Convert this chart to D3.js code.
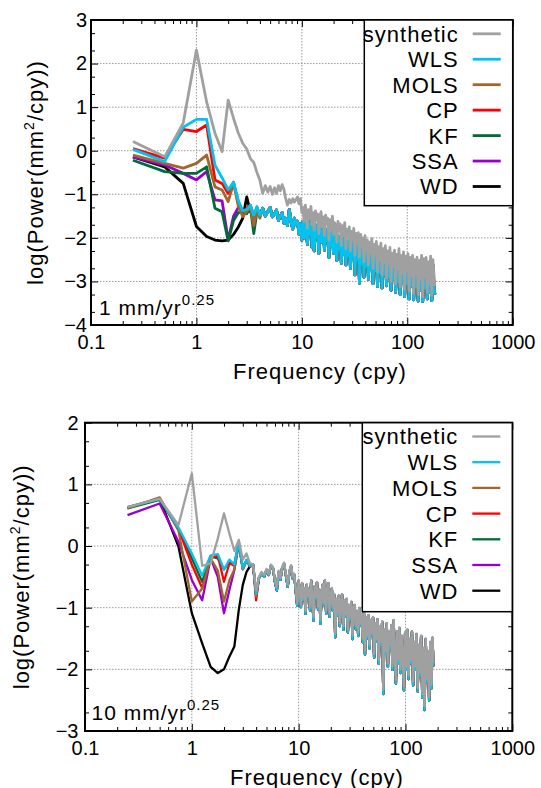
<!DOCTYPE html>
<html>
<head>
<meta charset="utf-8">
<script src="https://cdn.jsdelivr.net/npm/d3@7"></script>
<style>
  body { margin: 0; background: #fff; }
  svg { display: block; }
  svg text { font-family: "Liberation Sans", Arial, sans-serif; fill: #000; }
</style>
</head>
<body>
<svg id="chart" width="541" height="788"></svg>
<script>
// ---------- data ----------
var seriesNames = ["synthetic", "WLS", "MOLS", "CP", "KF", "SSA", "WD"];
var drawOrder = ["WD", "SSA", "KF", "CP", "MOLS", "WLS", "synthetic"];

var xTickValues = [0.1, 1, 10, 100, 1000];
var xTickLabels = ["0.1", "1", "10", "100", "1000"];
var topYTicks = [-4, -3, -2, -1, 0, 1, 2, 3];
var bottomYTicks = [-3, -2, -1, 0, 1, 2];

// low frequencies (cpy), each series distinct here
var lowFreq = [0.25, 0.5, 0.75, 1, 1.25, 1.5, 1.75, 2, 2.25, 2.5, 2.75, 3, 3.25, 3.5, 3.75, 4];

// higher frequencies (cpy), the methods overlap here
var highFreq = [4.25, 4.5, 4.75, 5, 5.25, 5.5, 5.75, 6, 6.25, 6.5, 6.75, 7, 7.3, 7.6, 7.9, 8.2, 8.5, 8.8, 9.1, 9.4, 9.7, 10,
  10.25, 10.5, 10.8, 11.05, 11.3, 11.6, 11.9, 12.2, 12.5, 12.8,
  13.1, 13.45, 13.8, 14.1, 14.5, 14.85, 15.2, 15.6, 16, 16.4,
  16.8, 17.2, 17.6, 18.1, 18.5, 19, 19.5, 19.95, 20.45, 20.95,
  21.5, 22, 22.6, 23.1, 23.7, 24.3, 24.9, 25.5, 26.2, 26.8,
  27.5, 28.2, 28.9, 29.6, 30.3, 31.1, 31.9, 32.7, 33.5, 34.3,
  35.2, 36.1, 37, 37.9, 38.8, 39.8, 40.8, 41.8, 42.8, 43.9,
  45, 46.1, 47.3, 48.5, 49.7, 50.9, 52.2, 53.5, 54.8, 56.2,
  57.6, 59, 60.5, 62, 63.6, 65.2, 66.8, 68.5, 70.2, 71.9,
  73.7, 75.6, 77.5, 79.4, 81.4, 83.4, 85.5, 87.6, 89.8, 92.1,
  94.4, 96.7, 99.2, 101.6, 104.2, 106.8, 109.5, 112.2, 115, 117.9,
  120.8, 123.8, 126.9, 130.1, 133.4, 136.7, 140.1, 143.6, 147.2, 150.9,
  154.7, 158.5, 162.5, 166.5, 170.7, 175, 179.3, 182.5];

// panel 1: 1 mm/yr^0.25, low-frequency part
var topSynthetic = [0.21, -0.14, 0.64, 2.31, 1.12, 0.40, -0.02, 1.16, 0.74, 0.40, 0.17, 0.04, -0.18, -0.27, -0.50, -0.68];
var topWLS  = [0.03, -0.25, 0.54, 0.72, 0.72, -0.33, -0.62, -0.90, -0.72, -1.15, -1.38, -1.35, -1.25, -1.48, -1.28, -1.48];
var topMOLS = [-0.10, -0.29, -0.40, -0.29, -0.10, -0.83, -0.90, -1.17, -0.75, -1.28, -1.51, -1.40, -1.30, -1.72, -1.35, -1.55];
var topCP   = [0.05, -0.17, 0.49, 0.44, 0.59, -0.67, -0.75, -0.98, -0.73, -1.18, -1.40, -1.32, -1.25, -1.50, -1.30, -1.50];
var topKF   = [-0.22, -0.48, -0.52, -0.52, -0.37, -1.32, -1.40, -2.07, -1.60, -1.42, -1.40, -1.45, -1.30, -1.90, -1.40, -1.50];
var topSSA  = [-0.14, -0.33, -0.52, -0.67, -0.48, -1.13, -1.15, -2.05, -1.50, -1.30, -1.42, -1.35, -1.28, -1.55, -1.32, -1.50];
var topWD   = [-0.14, -0.37, -0.75, -1.74, -1.97, -2.05, -2.07, -2.05, -1.92, -1.75, -1.55, -1.06, -1.40, -1.50, -1.35, -1.50];

// panel 1: high-frequency part
var topSyntheticHigh = [-0.98, -0.80, -0.95, -0.82, -1.00, -0.85, -0.98, -0.80, -0.92, -0.78, -0.88, -1.08, -1.25, -1.12, -1.20, -1.10, -1.18, -1.12, -1.06, -1.22, -1.10, -1.42,
  -1.30, -1.62, -1.25, -1.48, -1.78, -1.35, -1.55, -1.28, -1.70, -1.42,
  -1.82, -1.38, -1.60, -1.45, -1.90, -1.50, -1.40, -1.75, -1.52, -1.95,
  -1.48, -1.68, -1.55, -2.05, -1.58, -1.80, -1.50, -1.92, -1.65, -1.72,
  -2.10, -1.62, -1.85, -1.68, -2.18, -1.72, -1.95, -1.65, -2.25, -1.80,
  -1.98, -1.75, -2.30, -1.85, -2.05, -1.78, -2.40, -1.90, -2.12, -1.88,
  -2.45, -1.92, -2.20, -2.00, -2.55, -1.95, -2.30, -2.05, -2.62, -2.10,
  -2.35, -2.02, -2.70, -2.15, -2.40, -2.08, -2.78, -2.20, -2.50, -2.12,
  -2.85, -2.25, -2.55, -2.18, -2.92, -2.30, -2.60, -2.22, -3.00, -2.35,
  -2.65, -2.28, -3.05, -2.38, -2.72, -2.25, -3.12, -2.40, -2.80, -2.32,
  -3.18, -2.42, -2.75, -2.36, -3.22, -2.45, -2.88, -2.40, -3.28, -2.50,
  -2.82, -2.44, -3.30, -2.52, -2.95, -2.40, -3.35, -2.48, -2.90, -2.45,
  -3.25, -2.55, -3.05, -2.42, -3.32, -2.50, -2.85, -3.10];
var topMethodsHigh = [-1.32, -1.50, -1.40, -1.30, -1.52, -1.45, -1.36, -1.60, -1.50, -1.42, -1.66, -1.55, -1.72, -1.35, -1.62, -1.80, -1.55, -1.70, -1.62, -1.92, -1.68, -2.05,
  -1.62, -2.00, -1.58, -1.85, -2.15, -1.68, -1.92, -1.60, -2.22, -1.75,
  -2.30, -1.70, -1.98, -1.78, -2.36, -1.82, -1.72, -2.10, -1.85, -2.28,
  -1.80, -2.05, -1.88, -2.45, -1.90, -2.18, -1.82, -2.35, -1.95, -2.12,
  -2.52, -1.95, -2.25, -2.00, -2.58, -2.05, -2.38, -1.98, -2.62, -2.10,
  -2.40, -2.05, -2.70, -2.12, -2.45, -2.08, -2.85, -2.18, -2.50, -2.15,
  -3.04, -2.20, -2.60, -2.25, -2.90, -2.18, -2.65, -2.28, -2.95, -2.30,
  -2.70, -2.25, -3.05, -2.35, -2.75, -2.28, -3.12, -2.40, -2.80, -2.32,
  -3.15, -2.45, -2.85, -2.38, -3.10, -2.48, -2.90, -2.40, -3.20, -2.50,
  -2.95, -2.42, -3.25, -2.55, -3.00, -2.45, -3.30, -2.52, -3.05, -2.48,
  -3.35, -2.58, -3.05, -2.50, -3.40, -2.60, -3.10, -2.52, -3.42, -2.62,
  -3.12, -2.55, -3.45, -2.65, -3.20, -2.50, -3.46, -2.60, -3.15, -2.55,
  -3.40, -2.68, -3.25, -2.52, -3.44, -2.62, -3.10, -3.30];

// panel 2: 10 mm/yr^0.25, low-frequency part
var botSynthetic = [0.63, 0.77, 0.34, 1.18, -0.32, -0.28, 0.12, 0.53, 0.20, -0.08, 0.10, -0.22, -0.12, -0.28, -0.30, -0.72];
var botWLS  = [0.63, 0.76, 0.30, -0.12, -0.48, -0.15, -0.13, -0.38, -0.22, -0.30, 0.07, -0.36, -0.22, -0.32, -0.30, -0.78];
var botMOLS = [0.61, 0.79, 0.25, -0.90, -0.69, -0.20, -0.40, -0.90, -0.55, -0.38, 0.04, -0.37, -0.23, -0.32, -0.31, -0.82];
var botCP   = [0.63, 0.77, 0.28, -0.30, -0.68, -0.20, -0.15, -0.58, -0.28, -0.32, 0.05, -0.38, -0.24, -0.33, -0.32, -0.88];
var botKF   = [0.61, 0.75, 0.28, -0.20, -0.58, -0.17, -0.20, -0.38, -0.25, -0.30, 0.06, -0.36, -0.23, -0.32, -0.30, -0.80];
var botSSA  = [0.50, 0.69, 0.07, -0.55, -0.88, -0.20, -0.50, -1.09, -0.71, -0.39, 0.04, -0.37, -0.23, -0.32, -0.31, -0.80];
var botWD   = [0.62, 0.77, -0.01, -1.09, -1.58, -1.96, -2.06, -2.00, -1.79, -1.63, -1.04, -0.63, -0.42, -0.33, -0.30, -0.80];

// panel 2: high-frequency part
var botSyntheticHigh = [-0.50, -0.42, -0.47, -0.37, -0.45, -0.30, -0.34, -0.55, -0.66, -0.40, -0.52, -0.34, -0.27, -0.45, -0.62, -0.40, -0.31, -0.50, -0.45, -0.70, -0.93, -0.55,
  -0.72, -0.95, -0.60, -0.85, -0.68, -1.05, -0.62, -0.80, -0.70, -1.00,
  -0.55, -0.88, -1.15, -0.65, -0.82, -0.58, -0.98, -0.70, -1.20, -0.75,
  -0.62, -0.92, -0.55, -1.05, -0.72, -0.60, -1.10, -0.80, -0.68, -1.00,
  -0.78, -1.42, -0.85, -1.08, -0.80, -1.25, -0.90, -0.78, -1.30, -0.88,
  -1.10, -0.85, -1.35, -0.95, -1.15, -0.90, -1.45, -1.00, -0.95, -1.30,
  -1.05, -1.40, -1.00, -1.25, -1.10, -1.50, -1.05, -1.70, -1.15, -1.45,
  -1.12, -1.60, -1.20, -1.40, -1.15, -1.75, -1.25, -1.50, -1.18, -1.85,
  -1.30, -1.55, -1.22, -2.33, -1.35, -1.70, -1.25, -1.90, -1.40, -1.60,
  -1.28, -1.95, -1.20, -1.75, -2.17, -1.38, -1.85, -1.32, -2.00, -1.45,
  -1.80, -2.28, -1.40, -1.95, -1.35, -2.10, -1.50, -1.85, -1.38, -2.20,
  -1.55, -1.95, -1.42, -2.30, -1.60, -2.05, -1.45, -2.40, -1.65, -2.60,
  -1.50, -2.15, -1.70, -2.45, -1.55, -2.25, -1.48, -1.90];
var botMethodsHigh = [-0.52, -0.44, -0.50, -0.39, -0.47, -0.32, -0.36, -0.58, -0.72, -0.42, -0.55, -0.36, -0.29, -0.48, -0.66, -0.42, -0.33, -0.53, -0.47, -0.74, -0.97, -0.57,
  -0.74, -0.99, -0.61, -0.88, -0.69, -1.10, -0.63, -0.83, -0.71, -1.05,
  -0.56, -0.92, -1.21, -0.66, -0.85, -0.59, -1.03, -0.71, -1.26, -0.76,
  -0.63, -0.96, -0.56, -1.10, -0.73, -0.61, -1.15, -0.82, -0.69, -1.05,
  -0.79, -1.48, -0.86, -1.12, -0.81, -1.30, -0.91, -0.79, -1.36, -0.89,
  -1.14, -0.86, -1.40, -0.96, -1.19, -0.91, -1.51, -1.01, -0.96, -1.35,
  -1.06, -1.46, -1.01, -1.29, -1.11, -1.56, -1.06, -1.76, -1.16, -1.50,
  -1.13, -1.66, -1.21, -1.44, -1.16, -1.81, -1.26, -1.55, -1.19, -1.91,
  -1.31, -1.60, -1.23, -2.40, -1.36, -1.75, -1.26, -1.96, -1.41, -1.65,
  -1.29, -2.01, -1.21, -1.80, -2.23, -1.39, -1.91, -1.33, -2.06, -1.46,
  -1.85, -2.34, -1.41, -2.01, -1.36, -2.16, -1.51, -1.90, -1.39, -2.26,
  -1.56, -2.01, -1.43, -2.36, -1.61, -2.11, -1.46, -2.46, -1.66, -2.66,
  -1.51, -2.21, -1.71, -2.51, -1.56, -2.31, -1.49, -1.95];

// ---------- styles ----------
var colors = {
  synthetic: "#a0a0a0", WLS: "#00c4ef", MOLS: "#a0662e", CP: "#ff0000",
  KF: "#006b38", SSA: "#9900cc", WD: "#000000"
};

var panels = [
  {
    left: 91, right: 512.7, top: 20, bottom: 325, yDomain: [-4, 3], yTicks: topYTicks,
    lineWidth: 2.8, yPad: 4, yLabelX: 43, xLabelX: 233,
    legendLeft: 364.3, legendBottom: 205.7, rowStep: 25.45,
    note: "1 mm/yr", noteX: 99, noteY: 315,
    low: { synthetic: topSynthetic, WLS: topWLS, MOLS: topMOLS, CP: topCP, KF: topKF, SSA: topSSA, WD: topWD },
    syntheticHigh: topSyntheticHigh, methodsHigh: topMethodsHigh
  },
  {
    left: 85, right: 512.3, top: 422.7, bottom: 731, yDomain: [-3, 2], yTicks: bottomYTicks,
    lineWidth: 2.3, yPad: 6.5, yLabelX: 29, xLabelX: 230,
    legendLeft: 362.3, legendBottom: 611.7, rowStep: 25.7,
    note: "10 mm/yr", noteX: 91.5, noteY: 720,
    low: { synthetic: botSynthetic, WLS: botWLS, MOLS: botMOLS, CP: botCP, KF: botKF, SSA: botSSA, WD: botWD },
    syntheticHigh: botSyntheticHigh, methodsHigh: botMethodsHigh
  }
];

var svg = d3.select("#chart");

function buildSeries(low, high) {
  var pts = lowFreq.map(function (f, i) { return { f: f, v: low[i] }; });
  return pts.concat(highFreq.map(function (f, i) { return { f: f, v: high[i] }; }));
}

panels.forEach(function (p) {
  var x = d3.scaleLog().domain([0.1, 1000]).range([p.left, p.right]);
  var y = d3.scaleLinear().domain(p.yDomain).range([p.bottom, p.top]);
  var g = svg.append("g");

  // grid
  var grid = g.append("g").attr("stroke", "#999").attr("stroke-width", 1).attr("stroke-dasharray", "1.5,1.5");
  grid.selectAll("line.gx").data(xTickValues.slice(1, -1)).enter().append("line")
    .attr("x1", function (d) { return x(d); }).attr("x2", function (d) { return x(d); })
    .attr("y1", p.top).attr("y2", p.bottom);
  grid.selectAll("line.gy").data(p.yTicks.filter(function (d) { return d > p.yDomain[0] && d < p.yDomain[1]; }))
    .enter().append("line")
    .attr("x1", p.left).attr("x2", p.right)
    .attr("y1", function (d) { return y(d); }).attr("y2", function (d) { return y(d); });

  // minor ticks
  var xMinor = x.ticks().filter(function (d) { return xTickValues.indexOf(+d.toPrecision(3)) < 0; });
  var yMinor = [];
  p.yTicks.forEach(function (n) {
    [Math.log10(2), Math.log10(5)].forEach(function (m) {
      if (n + m < p.yDomain[1]) yMinor.push(n + m);
    });
  });

  function style(sel) {
    sel.select(".domain").remove();
    sel.selectAll("line").attr("stroke", "#000").attr("stroke-width", 1);
    sel.selectAll("text").attr("font-size", 20).attr("font-family", "Liberation Sans, Arial, sans-serif");
  }

  g.append("g").attr("transform", "translate(0," + p.bottom + ")")
    .call(d3.axisBottom(x).tickValues(xTickValues).tickSize(-7).tickPadding(9.5)
      .tickFormat(function (d, i) { return xTickLabels[i]; }))
    .call(style);
  g.append("g").attr("transform", "translate(0," + p.bottom + ")")
    .call(d3.axisBottom(x).tickValues(xMinor).tickSize(-4).tickFormat("")).call(style);
  g.append("g").attr("transform", "translate(0," + p.top + ")")
    .call(d3.axisTop(x).tickValues(xTickValues).tickSize(-7).tickFormat("")).call(style);
  g.append("g").attr("transform", "translate(0," + p.top + ")")
    .call(d3.axisTop(x).tickValues(xMinor).tickSize(-4).tickFormat("")).call(style);

  g.append("g").attr("transform", "translate(" + p.left + ",0)")
    .call(d3.axisLeft(y).tickValues(p.yTicks).tickSize(-7).tickPadding(p.yPad).tickFormat(d3.format("d")))
    .call(style);
  g.append("g").attr("transform", "translate(" + p.left + ",0)")
    .call(d3.axisLeft(y).tickValues(yMinor).tickSize(-4).tickFormat("")).call(style);
  g.append("g").attr("transform", "translate(" + p.right + ",0)")
    .call(d3.axisRight(y).tickValues(p.yTicks).tickSize(-7).tickFormat("")).call(style);
  g.append("g").attr("transform", "translate(" + p.right + ",0)")
    .call(d3.axisRight(y).tickValues(yMinor).tickSize(-4).tickFormat("")).call(style);

  // data lines
  var line = d3.line().x(function (d) { return x(d.f); }).y(function (d) { return y(d.v); });
  drawOrder.forEach(function (name) {
    var high = name === "synthetic" ? p.syntheticHigh : p.methodsHigh;
    g.append("path")
      .datum(buildSeries(p.low[name], high))
      .attr("d", line)
      .attr("fill", "none")
      .attr("stroke", colors[name])
      .attr("stroke-width", p.lineWidth)
      .attr("stroke-linejoin", "round");
  });

  // frame
  g.append("rect")
    .attr("x", p.left).attr("y", p.top)
    .attr("width", p.right - p.left).attr("height", p.bottom - p.top)
    .attr("fill", "none").attr("stroke", "#000").attr("stroke-width", 2);

  // legend
  var lg = g.append("g");
  lg.append("rect")
    .attr("x", p.legendLeft).attr("y", p.top)
    .attr("width", p.right - p.legendLeft).attr("height", p.legendBottom - p.top)
    .attr("fill", "#fff").attr("stroke", "#000").attr("stroke-width", 1.5);
  var rows = lg.selectAll("g.row").data(seriesNames).enter().append("g")
    .attr("transform", function (d, i) { return "translate(0," + (p.top + 13.8 + i * p.rowStep) + ")"; });
  rows.append("text")
    .attr("x", p.right - 54).attr("dy", "0.36em")
    .attr("text-anchor", "end").attr("font-size", 22).attr("letter-spacing", 1)
    .text(function (d) { return d; });
  rows.append("line")
    .attr("x1", p.right - 40).attr("x2", p.right - 12)
    .attr("stroke", function (d) { return colors[d]; })
    .attr("stroke-width", p.lineWidth);

  // rate note
  var note = g.append("text").attr("x", p.noteX).attr("y", p.noteY)
    .attr("font-size", 21).attr("letter-spacing", 1);
  note.append("tspan").text(p.note);
  note.append("tspan").attr("dy", -10).attr("font-size", 15).text("0.25");

  // axis titles
  g.append("text").attr("x", p.xLabelX).attr("y", p.bottom + 54)
    .attr("font-size", 22).attr("letter-spacing", 1).text("Frequency (cpy)");
  var yl = g.append("text")
    .attr("transform", "translate(" + p.yLabelX + "," + ((p.top + p.bottom) / 2) + ") rotate(-90)")
    .attr("text-anchor", "middle").attr("font-size", 22).attr("letter-spacing", 1);
  yl.append("tspan").text("log(Power(mm");
  yl.append("tspan").attr("dy", -9).attr("font-size", 14).text("2");
  yl.append("tspan").attr("dy", 9).text("/cpy))");
});
</script>
</body>
</html>
